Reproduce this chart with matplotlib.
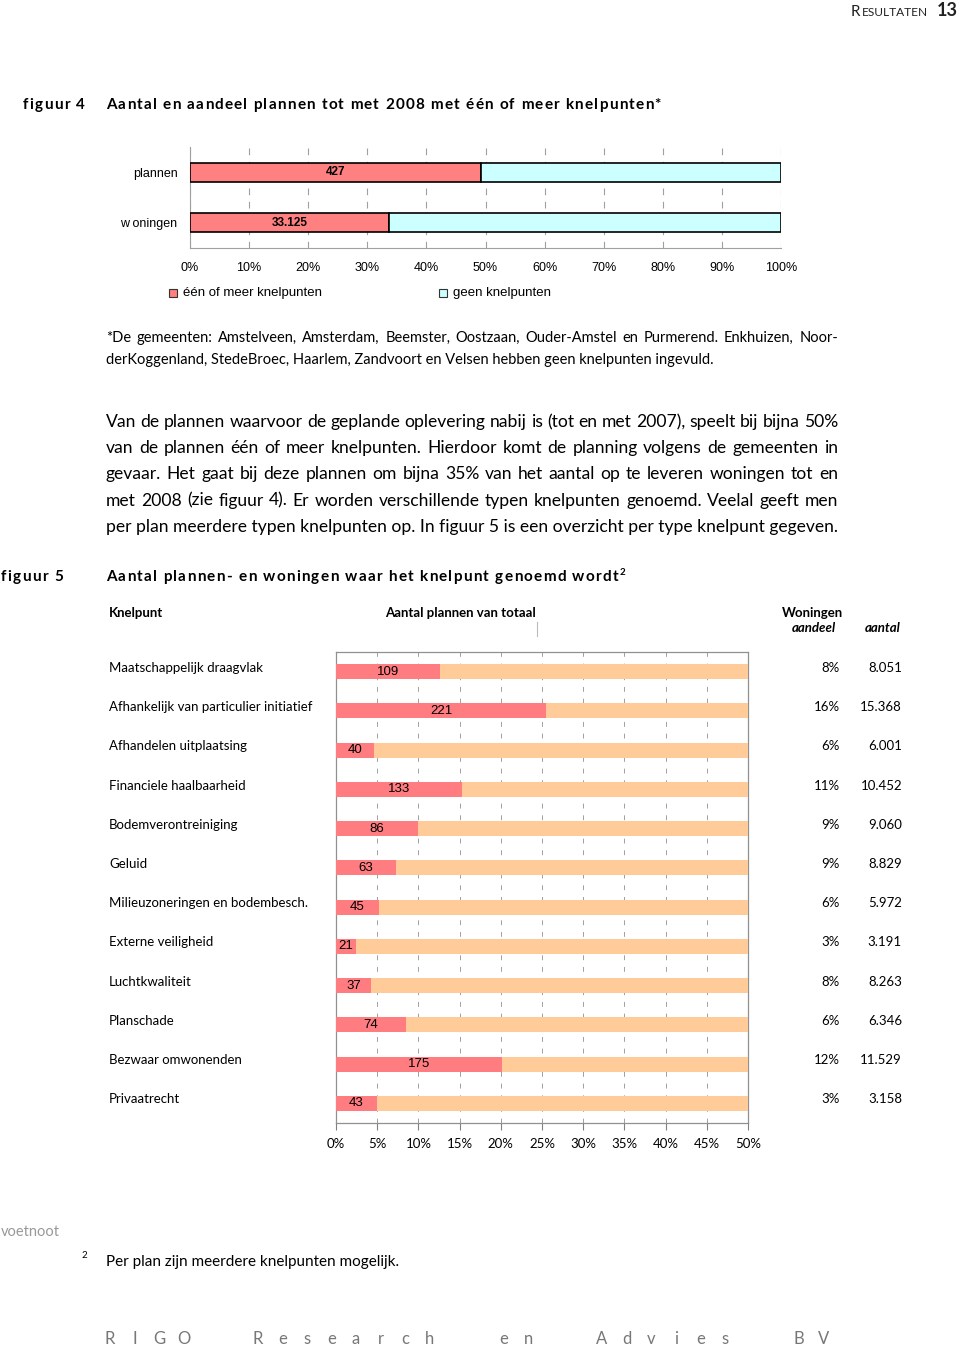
import matplotlib
matplotlib.use("Agg")
import matplotlib.pyplot as plt
import numpy as np

# figuur 4 data
f4_cats = ["plannen", "woningen"]
f4_share = [49.2, 33.7]          # % met één of meer knelpunten
f4_labels = ["427", "33.125"]

# figuur 5 data
knelpunten = ["Maatschappelijk draagvlak", "Afhankelijk van particulier initiatief",
              "Afhandelen uitplaatsing", "Financiele haalbaarheid", "Bodemverontreiniging",
              "Geluid", "Milieuzoneringen en bodembesch.", "Externe veiligheid",
              "Luchtkwaliteit", "Planschade", "Bezwaar omwonenden", "Privaatrecht"]
plannen = [109, 221, 40, 133, 86, 63, 45, 21, 37, 74, 175, 43]
totaal_plannen = 867
aandeel = ["8%", "16%", "6%", "11%", "9%", "9%", "6%", "3%", "8%", "6%", "12%", "3%"]
aantal = ["8.051", "15.368", "6.001", "10.452", "9.060", "8.829", "5.972", "3.191",
          "8.263", "6.346", "11.529", "3.158"]

W, H = 960, 1348
fig = plt.figure(figsize=(W / 100, H / 100), dpi=100)
renderer = fig.canvas.get_renderer()
BODY = "Lato"


def px(x, y):
    # pixel coords (top-left origin) -> figure fraction
    return x / W, 1 - y / H


def txt(x, y, s, **kw):
    return fig.text(*px(x, y), s, **kw)


def width_of(s, **kw):
    t = fig.text(0, 0, s, **kw)
    w = t.get_window_extent(renderer).width
    t.remove()
    return w


def justify(line, x0, x1, y, size, **kw):
    words = line.split(" ")
    texts = [fig.text(0, 0, w, fontsize=size, va="baseline", **kw) for w in words]
    widths = [t.get_window_extent(renderer).width for t in texts]
    gap = (x1 - x0 - sum(widths)) / (len(words) - 1)
    x = x0
    for t, w in zip(texts, widths):
        t.set_position(px(x, y))
        x += w + gap


def spaced(s, x0, x1, y, **kw):
    # letter-spaced text stretched from x0 to x1
    bar = width_of("|", **kw)
    full = width_of(s + "|", **kw) - bar
    extra = (x1 - x0 - full) / (len(s) - 1)
    for k, ch in enumerate(s):
        if ch == " ":
            continue
        pre = width_of(s[:k] + "|", **kw) - bar if k else 0
        txt(x0 + pre + k * extra, y, ch, va="baseline", **kw)


# page header
txt(851, 16, "R", fontsize=11, family=BODY, va="baseline", color="#222222")
txt(862, 16, "ESULTATEN", fontsize=8.6, family=BODY, va="baseline", color="#222222")
txt(937, 16, "13", fontsize=13, family=BODY, weight="bold", va="baseline", color="#222222")

# ---------- figuur 4 ----------
spaced("figuur 4", 23, 85, 109, fontsize=11, family=BODY, weight="bold")
spaced("Aantal en aandeel plannen tot met 2008 met één of meer knelpunten*", 106, 661, 109,
       fontsize=11, family=BODY, weight="bold")

ax4 = fig.add_axes([190 / W, 1 - 248 / H, 591 / W, 101 / H])
y4 = np.arange(len(f4_cats))
rest4 = [100 - s for s in f4_share]
ax4.barh(y4, f4_share, height=0.38, color="#FF8080", edgecolor="black", linewidth=1.2, zorder=3)
ax4.barh(y4, rest4, left=f4_share, height=0.38, color="#CCFFFF", edgecolor="black",
         linewidth=1.2, zorder=3)
for yi, s, lab in zip(y4, f4_share, f4_labels):
    ax4.text(s / 2, yi, lab, ha="center", va="center", fontsize=8.5,
             family="Liberation Sans", weight="bold", zorder=4)
ax4.set_xlim(0, 100)
ax4.set_ylim(1.5, -0.5)
ax4.set_xticks(np.arange(0, 101, 10))
ax4.set_xticklabels([f"{v}%" for v in range(0, 101, 10)], family="Liberation Sans", fontsize=9)
ax4.set_yticks(y4)
ax4.set_yticklabels(["plannen", "w oningen"], family="Liberation Sans", fontsize=9)
ax4.tick_params(axis="y", length=0, pad=9)
ax4.tick_params(axis="x", length=0, pad=10)
ax4.grid(axis="x", color="#A0A0A0", linestyle=(0, (6, 6)), linewidth=0.8, zorder=0)
for side in ["top", "right"]:
    ax4.spines[side].set_visible(False)
for side in ["left", "bottom"]:
    ax4.spines[side].set_color("#A0A0A0")

# legend figuur 4
for lx, col, lab in [(173, "#FF8080", "één of meer knelpunten"), (443, "#CCFFFF", "geen knelpunten")]:
    fig.patches.append(plt.Rectangle(px(lx - 4, 297), 8 / W, 8 / H, transform=fig.transFigure,
                                     facecolor=col, edgecolor="#333333", linewidth=0.8))
    txt(lx + 10, 293, lab, fontsize=9.5, family="Liberation Sans", va="center")

# note under figuur 4
justify("*De gemeenten: Amstelveen, Amsterdam, Beemster, Oostzaan, Ouder-Amstel en Purmerend. Enkhuizen, Noor-",
        106, 838, 342, 10.5, family=BODY)
txt(106, 364, "derKoggenland, StedeBroec, Haarlem, Zandvoort en Velsen hebben geen knelpunten ingevuld.",
    fontsize=10.5, family=BODY, va="baseline")

# body paragraph
body = ["Van de plannen waarvoor de geplande oplevering nabij is (tot en met 2007), speelt bij bijna 50%",
        "van de plannen één of meer knelpunten. Hierdoor komt de planning volgens de gemeenten in",
        "gevaar. Het gaat bij deze plannen om bijna 35% van het aantal op te leveren woningen tot en",
        "met 2008 (zie figuur 4). Er worden verschillende typen knelpunten genoemd. Veelal geeft men"]
for i, line in enumerate(body):
    justify(line, 106, 838, 427 + i * 26.2, 12.6, family=BODY)
txt(106, 427 + 4 * 26.2, "per plan meerdere typen knelpunten op. In figuur 5 is een overzicht per type knelpunt gegeven.",
    fontsize=12.6, family=BODY, va="baseline")

# ---------- figuur 5 ----------
spaced("figuur 5", 1, 63, 581, fontsize=11, family=BODY, weight="bold")
spaced("Aantal plannen- en woningen waar het knelpunt genoemd wordt", 106, 618, 581,
       fontsize=11, family=BODY, weight="bold")
txt(620, 575, "2", fontsize=7, family=BODY, weight="bold", va="baseline")

txt(109, 613, "Knelpunt", fontsize=9.5, family=BODY, weight="bold", va="center")
txt(385, 613, "Aantal plannen van totaal", fontsize=9.5, family=BODY, weight="bold", va="center")
fig.add_artist(plt.Line2D([537 / W, 537 / W], [1 - 622 / H, 1 - 636 / H], color="#BBBBBB", lw=0.8))
txt(782, 613, "Woningen", fontsize=9.5, family=BODY, weight="bold", va="center")
txt(836, 628, "aandeel", fontsize=9.5, family=BODY, weight="bold", style="italic", va="center", ha="right")
txt(901, 628, "aantal", fontsize=9.5, family=BODY, weight="bold", style="italic", va="center", ha="right")

ax5 = fig.add_axes([336 / W, 1 - 1123 / H, 412 / W, 471 / H])
y5 = np.arange(len(knelpunten))
share5 = [p / totaal_plannen * 100 for p in plannen]
rest5 = [50 - s for s in share5]
ax5.barh(y5, share5, height=0.38, color="#FF7C80", zorder=3)
ax5.barh(y5, rest5, left=share5, height=0.38, color="#FFCC99", zorder=3)
for yi, s, p in zip(y5, share5, plannen):
    ax5.text(s / 2, yi, str(p), ha="center", va="center", fontsize=9.5,
             family="Liberation Sans", zorder=4)
ax5.set_xlim(0, 50)
ax5.set_ylim(len(knelpunten) - 0.5, -0.5)
ax5.set_xticks(np.arange(0, 51, 5))
ax5.set_xticklabels([f"{v}%" for v in range(0, 51, 5)], family=BODY, fontsize=9.5)
ax5.set_yticks([])
ax5.tick_params(axis="x", length=5, color="#808080", pad=6)
ax5.grid(axis="x", color="#A0A0A0", linestyle=(0, (5, 7)), linewidth=0.7, zorder=0)
for side in ax5.spines:
    ax5.spines[side].set_color("#909090")
    ax5.spines[side].set_linewidth(0.9)

for i, (k, a, n) in enumerate(zip(knelpunten, aandeel, aantal)):
    yy = 668 + i * 39.2
    txt(109, yy, k, fontsize=9.5, family=BODY, va="center")
    txt(840, yy, a, fontsize=9.5, family=BODY, va="center", ha="right")
    txt(902, yy, n, fontsize=9.5, family=BODY, va="center", ha="right")

# footnote
txt(1, 1232, "voetnoot", fontsize=10.5, family=BODY, color="#999999", va="center")
txt(82, 1256, "2", fontsize=7, family=BODY, va="center")
txt(106, 1262, "Per plan zijn meerdere knelpunten mogelijk.", fontsize=11, family=BODY, va="center")

# page footer with spaced letters
footer = "RIGO  Research  en  Advies  BV"
for k, ch in enumerate(footer):
    if ch != " ":
        txt(110 + k * 24.6, 1339, ch, fontsize=12, family=BODY, color="#777777", va="center", ha="center")

fig.savefig("out.png", dpi=100)
